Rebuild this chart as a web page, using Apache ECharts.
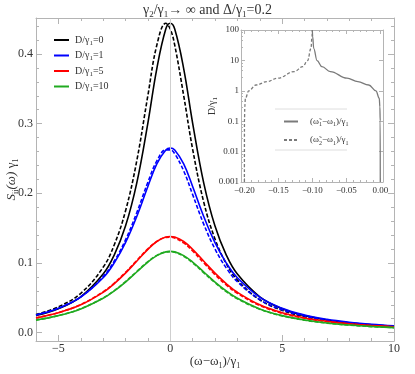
<!DOCTYPE html>
<html>
<head>
<meta charset="utf-8">
<script src="https://cdn.jsdelivr.net/npm/echarts@6/dist/echarts.min.js"></script>
<style>
	html, body { margin: 0; padding: 0; background: #fff; }
	#chart { width: 415px; height: 374px; }
</style>
</head>
<body>
<div id="chart"></div>
<script>
	/* main plot: S_ii(w) gamma_1 vs (w - w1)/gamma_1 */
	const xs = [-6, -5, -4, -3, -2.5, -2, -1.5, -1, -0.6, -0.2, 0, 0.2, 0.6, 1, 1.5, 2, 2.5, 3, 4, 5, 6, 7, 8, 9, 10];
	const dValues = [0, 1, 5, 10];
	const colors = ['#000000', '#0000ff', '#ff0000', '#20aa20'];

	const blackSolid = [0.0245, 0.0344, 0.0515, 0.0840, 0.1117, 0.1529, 0.2143, 0.3008, 0.3790, 0.4357, 0.444, 0.4357, 0.3790, 0.3008, 0.2143, 0.1529, 0.1117, 0.0840, 0.0515, 0.0344, 0.0245, 0.0182, 0.0141, 0.0112, 0.0091];
	const blackDashed = [0.0261, 0.0371, 0.0564, 0.0938, 0.1262, 0.1746, 0.2460, 0.3403, 0.4126, 0.444, 0.4357, 0.4126, 0.3403, 0.2634, 0.1869, 0.1344, 0.0993, 0.0756, 0.0472, 0.0320, 0.0230, 0.0173, 0.0134, 0.0107, 0.0088];
	const blueSolid = [0.0253, 0.0350, 0.0509, 0.0787, 0.1002, 0.1291, 0.1664, 0.2098, 0.2421, 0.2622, 0.265, 0.2622, 0.2421, 0.2098, 0.1664, 0.1291, 0.1002, 0.0787, 0.0509, 0.0350, 0.0253, 0.0191, 0.0149, 0.0119, 0.0097];
	const blueDashed = [0.0253, 0.0351, 0.0515, 0.0804, 0.1029, 0.1331, 0.1719, 0.2158, 0.2464, 0.2623, 0.2623, 0.2568, 0.2322, 0.1982, 0.1554, 0.1200, 0.0930, 0.0731, 0.0474, 0.0328, 0.0238, 0.0180, 0.0140, 0.0112, 0.0092];
	const redSolid = [0.0211, 0.0285, 0.0399, 0.0579, 0.0704, 0.0854, 0.1025, 0.1196, 0.1308, 0.1372, 0.138, 0.1372, 0.1308, 0.1196, 0.1025, 0.0854, 0.0704, 0.0579, 0.0399, 0.0285, 0.0211, 0.0162, 0.0127, 0.0103, 0.0084];
	const redDashed = [0.0213, 0.0287, 0.0403, 0.0586, 0.0712, 0.0865, 0.1035, 0.1203, 0.1310, 0.1366, 0.1370, 0.1357, 0.1287, 0.1172, 0.1001, 0.0832, 0.0685, 0.0564, 0.0389, 0.0278, 0.0207, 0.0158, 0.0125, 0.0101, 0.0083];
	const greenSolid = [0.0181, 0.0244, 0.0341, 0.0493, 0.0599, 0.0726, 0.0870, 0.1013, 0.1106, 0.1159, 0.1166, 0.1159, 0.1106, 0.1013, 0.0870, 0.0726, 0.0599, 0.0493, 0.0341, 0.0244, 0.0181, 0.0138, 0.0109, 0.0088, 0.0072];
	const greenDashed = [0.0179, 0.0245, 0.0343, 0.0498, 0.0604, 0.0732, 0.0876, 0.1018, 0.1109, 0.1158, 0.1163, 0.1154, 0.1097, 0.1002, 0.0859, 0.0716, 0.0590, 0.0486, 0.0336, 0.0241, 0.0179, 0.0137, 0.0108, 0.0087, 0.0072];

	const solidSets = [blackSolid, blueSolid, redSolid, greenSolid];
	const dashedSets = [blackDashed, blueDashed, redDashed, greenDashed];

	const xMajor = [-5, 0, 5, 10];
	const xMinor = [-6, -5, -4, -3, -2, -1, 0, 1, 2, 3, 4, 5, 6, 7, 8, 9, 10];
	const yMajor = [0, 0.1, 0.2, 0.3, 0.4];
	const yMinor = [0, 0.02, 0.04, 0.06, 0.08, 0.1, 0.12, 0.14, 0.16, 0.18, 0.2, 0.22, 0.24, 0.26, 0.28, 0.3, 0.32, 0.34, 0.36, 0.38, 0.4, 0.42, 0.44];

	/* inset: D/gamma_1 (log) vs (w~ - w1)/gamma_1 */
	const insetD = [0.001, 0.1, 0.3, 0.57, 1, 1.55, 2, 2.6, 4.3, 6.2, 9.8, 25, 60, 100];
	const insetW1 = [0, -0.0001, -0.0006, -0.0015, -0.0064, -0.017, -0.033, -0.049, -0.0735, -0.0858, -0.093, -0.098, -0.0995, -0.1];
	const insetW2 = [-0.2, -0.1999, -0.1994, -0.1985, -0.1936, -0.183, -0.167, -0.151, -0.1265, -0.1142, -0.107, -0.102, -0.1005, -0.1];
	const insetXMajor = [-0.2, -0.15, -0.1, -0.05, 0];
	const insetXMinor = [-0.2, -0.19, -0.18, -0.17, -0.16, -0.15, -0.14, -0.13, -0.12, -0.11, -0.1, -0.09, -0.08, -0.07, -0.06, -0.05, -0.04, -0.03, -0.02, -0.01, 0];

	const serif = "'Liberation Serif', 'DejaVu Serif', serif";
	const frameColor = '#b4b4b4';
	const labelColor = '#333';

	const rich = size => ({
		t: { fontFamily: serif, fontSize: size, fontWeight: 'normal', color: labelColor, lineHeight: size + 3 },
		i: { fontFamily: serif, fontSize: size, fontWeight: 'normal', color: labelColor, lineHeight: size + 3, fontStyle: 'italic' },
		s: { fontFamily: serif, fontSize: Math.round(size * 0.65), fontWeight: 'normal', color: labelColor, lineHeight: Math.round(size * 0.65), verticalAlign: 'bottom' }
	});

	const frameAxis = (gridIndex, position, extra) => Object.assign({
		gridIndex,
		position,
		type: 'value',
		nameMoveOverlap: false,
		axisLine: { show: true, onZero: false, lineStyle: { color: frameColor, width: 1 } },
		axisTick: { show: false },
		axisLabel: { show: false },
		splitLine: { show: false }
	}, extra);
	const hidden = { show: false, onZero: false };
	const ticks = (values, length) => ({ show: true, inside: true, length, customValues: values, lineStyle: { color: frameColor } });

	const chartDom = document.querySelector('#chart');
	const chart = echarts.init(chartDom, null, { renderer: 'canvas' });

	const series = [];
	series.push({
		type: 'line',
		xAxisIndex: 0,
		yAxisIndex: 0,
		data: [],
		z: 1,
		markLine: {
			silent: true,
			symbol: ['none', 'none'],
			label: { show: false },
			lineStyle: { color: '#cfcfcf', width: 1, type: 'solid' },
			data: [{ xAxis: 0 }]
		}
	});
	dValues.forEach((d, k) => {
		series.push({
			type: 'line',
			name: 'D' + d,
			xAxisIndex: 0,
			yAxisIndex: 0,
			smooth: 0.4,
			showSymbol: false,
			symbol: 'none',
			z: 3,
			lineStyle: { color: colors[k], width: 1.6 },
			itemStyle: { color: colors[k] },
			data: xs.map((x, j) => [x, solidSets[k][j]])
		});
		series.push({
			type: 'line',
			name: 'D' + d + ' dashed',
			xAxisIndex: 0,
			yAxisIndex: 0,
			smooth: 0.4,
			showSymbol: false,
			symbol: 'none',
			z: 3,
			lineStyle: { color: colors[k], width: 1.6, type: [4, 2] },
			itemStyle: { color: colors[k] },
			data: xs.map((x, j) => [x, dashedSets[k][j]])
		});
	});
	series.push({
		type: 'line',
		name: 'w1',
		xAxisIndex: 4,
		yAxisIndex: 4,
		smooth: 0.4,
		smoothMonotone: 'x',
		showSymbol: false,
		symbol: 'none',
		z: 5,
		lineStyle: { color: '#7a7a7a', width: 1.3 },
		itemStyle: { color: '#7a7a7a' },
		data: insetD.map((d, j) => [insetW1[j], d])
	});
	series.push({
		type: 'line',
		name: 'w2',
		xAxisIndex: 4,
		yAxisIndex: 4,
		smooth: 0.4,
		smoothMonotone: 'x',
		showSymbol: false,
		symbol: 'none',
		z: 5,
		lineStyle: { color: '#7a7a7a', width: 1.3, type: [3, 2] },
		itemStyle: { color: '#7a7a7a' },
		data: insetD.map((d, j) => [insetW2[j], d])
	});

	chart.setOption({
		animation: false,
		backgroundColor: '#fff',
		title: {
			text: '{t|γ}{s|2}{t|/γ}{s|1}{t|→ ∞ and Δ/γ}{s|1}{t|=0.2}',
			left: 'center',
			top: -3,
			textStyle: { fontWeight: 'normal', rich: rich(14) }
		},
		legend: [
			{
				data: dValues.map(d => 'D' + d),
				left: 48,
				top: 30,
				orient: 'vertical',
				itemWidth: 15,
				itemHeight: 10,
				itemGap: 4,
				itemStyle: { opacity: 0 },
				formatter: name => '{t|D/γ}{s|1}{t|=' + name.slice(1) + '}',
				textStyle: { padding: [0, 0, 0, 1], rich: rich(10) }
			},
			{
				data: ['w1', 'w2'],
				left: 278,
				top: 112,
				orient: 'vertical',
				itemWidth: 14,
				itemHeight: 10,
				itemGap: 8,
				itemStyle: { opacity: 0 },
				formatter: name => '{t|(ω̃}{s|' + name.slice(1) + '}{t|−ω}{s|1}{t|)/γ}{s|1}',
				textStyle: { padding: [0, 0, 0, 7], rich: rich(9) }
			}
		],
		graphic: [
			{ type: 'line', shape: { x1: 275, y1: 109, x2: 347, y2: 109 }, style: { stroke: '#dedede', lineWidth: 1 }, z: 10 },
			{ type: 'line', shape: { x1: 275, y1: 150, x2: 347, y2: 150 }, style: { stroke: '#dedede', lineWidth: 1 }, z: 10 }
		],
		grid: [
			{ left: 36, right: 21, top: 18, bottom: 33, outerBoundsMode: 'none', containLabel: false },
			{ left: 241, right: 32, top: 30, bottom: 192, outerBoundsMode: 'none', containLabel: false, show: true, backgroundColor: '#fff', borderWidth: 0 }
		],
		xAxis: [
			frameAxis(0, 'bottom', {
				min: -6, max: 10,
				name: '{t|(ω−ω}{s|1}{t|)/γ}{s|1}',
				nameLocation: 'middle',
				nameGap: 13,
				nameTextStyle: { rich: rich(13) },
				axisTick: ticks(xMajor, 6),
				axisLabel: {
					show: true, customValues: xMajor, margin: 2,
					fontFamily: serif, fontSize: 12, color: labelColor,
					formatter: v => (v < 0 ? '−' + (-v) : String(v))
				}
			}),
			frameAxis(0, 'bottom', { min: -6, max: 10, axisLine: hidden, axisTick: ticks(xMinor, 3) }),
			frameAxis(0, 'top', { min: -6, max: 10, axisTick: ticks(xMajor, 6) }),
			frameAxis(0, 'top', { min: -6, max: 10, axisLine: hidden, axisTick: ticks(xMinor, 3) }),
			frameAxis(1, 'bottom', {
				min: -0.205, max: 0.004,
				axisTick: ticks(insetXMajor, 4),
				axisLabel: {
					show: true, customValues: insetXMajor, margin: 4,
					fontFamily: serif, fontSize: 9, color: labelColor,
					formatter: v => (v < 0 ? '−' : '') + Math.abs(v).toFixed(2)
				}
			}),
			frameAxis(1, 'bottom', { min: -0.205, max: 0.004, axisLine: hidden, axisTick: ticks(insetXMinor, 2) }),
			frameAxis(1, 'top', { min: -0.205, max: 0.004, axisTick: ticks(insetXMajor, 4) }),
			frameAxis(1, 'top', { min: -0.205, max: 0.004, axisLine: hidden, axisTick: ticks(insetXMinor, 2) })
		],
		yAxis: [
			frameAxis(0, 'left', {
				min: -0.012, max: 0.4516,
				name: '{i|S}{s|ii}{i|(ω)} {t|γ}{s|1}',
				nameLocation: 'middle',
				nameGap: 16,
				nameRotate: 90,
				nameTextStyle: { rich: rich(13) },
				axisTick: ticks(yMajor, 6),
				axisLabel: {
					show: true, customValues: yMajor, margin: 3,
					fontFamily: serif, fontSize: 12, color: labelColor,
					formatter: v => v.toFixed(1)
				}
			}),
			frameAxis(0, 'left', { min: -0.012, max: 0.4516, axisLine: hidden, axisTick: ticks(yMinor, 3) }),
			frameAxis(0, 'right', { min: -0.012, max: 0.4516, axisTick: ticks(yMajor, 6) }),
			frameAxis(0, 'right', { min: -0.012, max: 0.4516, axisLine: hidden, axisTick: ticks(yMinor, 3) }),
			frameAxis(1, 'left', {
				type: 'log',
				logBase: 10,
				min: 0.001, max: 100,
				name: '{t|D/γ}{s|1}',
				nameLocation: 'middle',
				nameGap: 22,
				nameRotate: 90,
				nameTextStyle: { rich: rich(10) },
				axisTick: { show: true, inside: true, length: 4, lineStyle: { color: frameColor } },
				minorTick: { show: true, splitNumber: 5, length: 2, lineStyle: { color: frameColor } },
				axisLabel: {
					show: true, margin: 2,
					fontFamily: serif, fontSize: 9, color: labelColor,
					formatter: v => String(+Number(v).toPrecision(1))
				}
			}),
			frameAxis(1, 'right', {
				type: 'log',
				logBase: 10,
				min: 0.001, max: 100,
				axisTick: { show: true, inside: true, length: 4, lineStyle: { color: frameColor } }
			})
		],
		series
	});
</script>
</body>
</html>
